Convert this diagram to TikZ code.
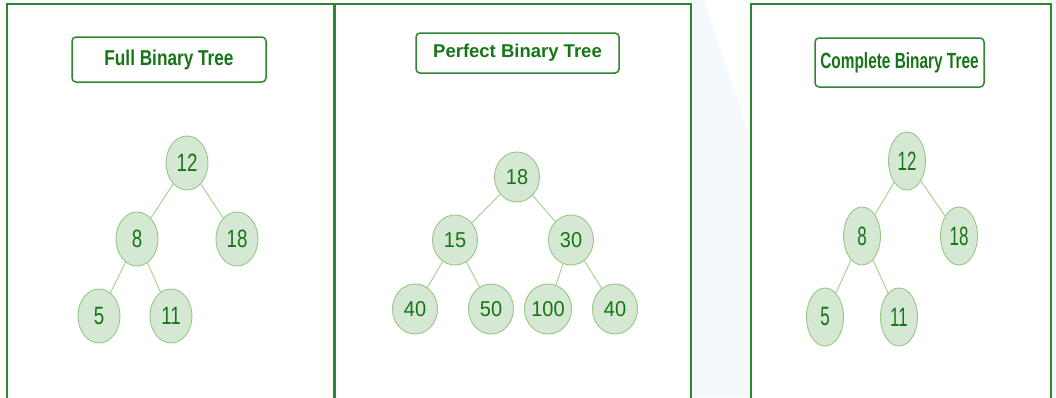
\documentclass[tikz,border=0pt]{standalone}
\usepackage{fontspec}
\setmainfont{Liberation Sans}
\usetikzlibrary{shapes.geometric}
\definecolor{pborder}{HTML}{2E862E}
\definecolor{ttext}{HTML}{167516}
\definecolor{nfill}{HTML}{D5E8D4}
\definecolor{ndraw}{HTML}{97C784}
\definecolor{edgec}{HTML}{A3CF90}
\definecolor{bgblue}{HTML}{F3F9FD}
\newcommand{\sqA}[1]{\scalebox{0.75}[1]{#1}}
\newcommand{\sqB}[1]{\scalebox{0.93}[1]{#1}}
\newcommand{\sqC}[1]{\scalebox{0.64}[1]{#1}}
\tikzset{
  panel/.style={draw=pborder, line width=1.8pt},
  titlebox/.style={draw=pborder, line width=1.5pt, rounded corners=4pt, fill=white, inner sep=0pt, text=ttext},
  tnode/.style={ellipse, draw=ndraw, fill=nfill, line width=0.9pt, inner sep=0pt, text=ttext},
  nA/.style={tnode, minimum width=42pt, minimum height=54pt, font=\fontsize{25}{25}\selectfont},
  nB/.style={tnode, minimum width=45pt, minimum height=50pt, font=\fontsize{21.5}{21.5}\selectfont},
  nC/.style={tnode, minimum width=37pt, minimum height=58pt, font=\fontsize{26.5}{26.5}\selectfont},
  link/.style={draw=edgec, line width=0.9pt},
}
\begin{document}
\begin{tikzpicture}[x=1pt,y=-1pt]
\useasboundingbox (0,0) rectangle (1056,397);
\clip (0,0) rectangle (1056,397);
\fill[white] (0,0) rectangle (1056,397);
% faint background
\fill[bgblue] (691,0) -- (704,0) -- (751,140) -- (751,397) -- (691,397) -- cycle;
\fill[bgblue] (1051,0) rectangle (1056,397);
% panels
\draw[panel] (7,4) rectangle (334,402);
\draw[panel] (335.5,4) rectangle (691,402);
\draw[panel] (751,4) rectangle (1051,402);
% titles
\node[titlebox, minimum width=194pt, minimum height=45pt, font=\fontsize{21.5}{21.5}\selectfont\bfseries] (t1) at (169,59.5) {\scalebox{0.8}[1]{Full Binary Tree}};
\node[titlebox, minimum width=203pt, minimum height=40pt, font=\fontsize{18.5}{18.5}\selectfont\bfseries] (t2) at (517.5,53) {Perfect Binary Tree};
\node[titlebox, minimum width=169pt, minimum height=49pt, font=\fontsize{22}{22}\selectfont\bfseries] (t3) at (899.5,62.5) {\scalebox{0.7}[1]{Complete Binary Tree}};
% tree 1
\node[nA] (a12) at (187,163) {\sqA{12}};
\node[nA] (a8) at (137,239) {\sqA{8}};
\node[nA] (a18) at (237,239) {\sqA{18}};
\node[nA] (a5) at (99,316) {\sqA{5}};
\node[nA] (a11) at (171,316) {\sqA{11}};
\draw[link] (a12) -- (a8);
\draw[link] (a12) -- (a18);
\draw[link] (a8) -- (a5);
\draw[link] (a8) -- (a11);
% tree 2
\node[nB] (b18) at (517,177) {\sqB{18}};
\node[nB] (b15) at (455,240) {\sqB{15}};
\node[nB] (b30) at (571,240) {\sqB{30}};
\node[nB] (b40a) at (415,309) {\sqB{40}};
\node[nB] (b50) at (491,309) {\sqB{50}};
\node[nB] (b100) at (548,309) {\sqB{100}};
\node[nB] (b40b) at (615,309) {\sqB{40}};
\draw[link] (b18) -- (b15);
\draw[link] (b18) -- (b30);
\draw[link] (b15) -- (b40a);
\draw[link] (b15) -- (b50);
\draw[link] (b30) -- (b100);
\draw[link] (b30) -- (b40b);
% tree 3
\node[nC] (c12) at (907,161) {\sqC{12}};
\node[nC] (c8) at (862,236) {\sqC{8}};
\node[nC] (c18) at (959,236) {\sqC{18}};
\node[nC] (c5) at (825,317) {\sqC{5}};
\node[nC] (c11) at (899,317) {\sqC{11}};
\draw[link] (c12) -- (c8);
\draw[link] (c12) -- (c18);
\draw[link] (c8) -- (c5);
\draw[link] (c8) -- (c11);
\end{tikzpicture}
\end{document}
